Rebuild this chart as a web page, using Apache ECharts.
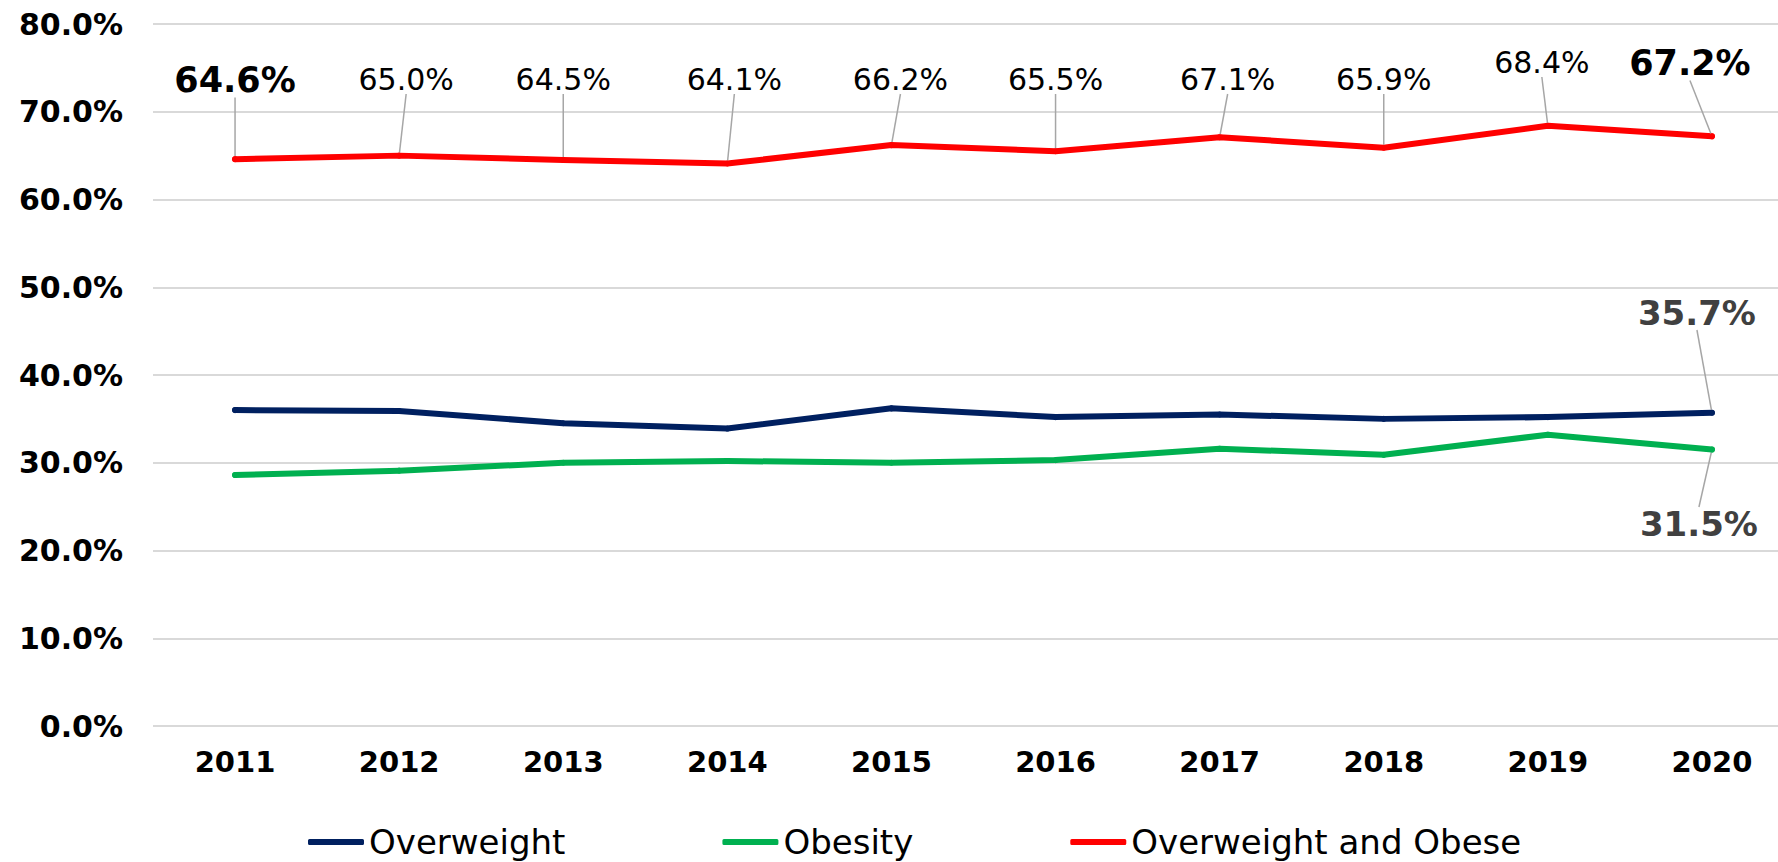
<!DOCTYPE html>
<html>
<head>
<meta charset="utf-8">
<script src="https://cdn.jsdelivr.net/npm/echarts@6/dist/echarts.min.js"></script>
<style>
  html, body { margin: 0; padding: 0; background: #fff; }
  #chart { width: 1778px; height: 862px; }
</style>
</head>
<body>
<div id="chart"></div>
<script>
const years = ['2011', '2012', '2013', '2014', '2015', '2016', '2017', '2018', '2019', '2020'];
const overweight = [36.0, 35.9, 34.5, 33.9, 36.2, 35.2, 35.5, 35.0, 35.2, 35.7];
const obesity = [28.6, 29.1, 30.0, 30.2, 30.0, 30.3, 31.6, 30.9, 33.2, 31.5];
const combined = [64.6, 65.0, 64.5, 64.1, 66.2, 65.5, 67.1, 65.9, 68.4, 67.2];
const yTicks = [0, 10, 20, 30, 40, 50, 60, 70, 80];

const FONT = '"DejaVu Sans", Verdana, sans-serif';
const pct = v => v.toFixed(1) + '%';

// label placement: horizontal shift and centre line for the callouts
const redDx = [0, 7, 0, 7, 9, 0, 8, 0, -6, -22];
const redRow = [80, 79, 79, 79, 79, 79, 79, 79, 62, 63];

const guide = { show: true, lineStyle: { color: '#a6a6a6', width: 1.5 } };

function moveLabel(dx, cy) {
  return p => ({
    dx: dx,
    dy: cy - (p.labelRect.y + p.labelRect.height / 2)
  });
}

const chart = echarts.init(document.getElementById('chart'), null, { renderer: 'svg' });

chart.setOption({
  animation: false,
  textStyle: { fontFamily: FONT },
  grid: { left: 153, top: 24, height: 702, width: 1641, containLabel: false, outerBoundsMode: 'none' },
  legend: {
    left: 303,
    top: 820,
    itemGap: 157,
    itemWidth: 56,
    itemHeight: 6,
    icon: 'roundRect',
    textStyle: { fontFamily: FONT, fontSize: 34, color: '#000' },
    data: ['Overweight', 'Obesity', 'Overweight and Obese']
  },
  xAxis: {
    type: 'category',
    data: years,
    boundaryGap: true,
    axisLine: { show: false },
    axisTick: { show: false },
    axisLabel: { fontFamily: FONT, fontSize: 29, fontWeight: 'bold', color: '#000', margin: 21 }
  },
  yAxis: {
    type: 'value',
    min: yTicks[0],
    max: yTicks[yTicks.length - 1],
    interval: 10,
    axisLine: { show: false },
    axisTick: { show: false },
    splitLine: { lineStyle: { color: '#d9d9d9', width: 2 } },
    axisLabel: { fontFamily: FONT, fontSize: 30, fontWeight: 'bold', color: '#000', margin: 30, formatter: pct }
  },
  series: [
    {
      name: 'Overweight',
      type: 'line',
      data: overweight.map((v, i) => i === overweight.length - 1
        ? { value: v, label: { show: true } } : v),
      color: '#002060',
      symbol: 'circle',
      symbolSize: 6,
      lineStyle: { width: 6, cap: 'round', join: 'round' },
      label: { show: false, position: 'top', fontFamily: FONT, fontSize: 34, fontWeight: 'bold', color: '#404040', formatter: p => pct(p.value) },
      labelLine: guide,
      labelLayout: moveLabel(-15, 313)
    },
    {
      name: 'Obesity',
      type: 'line',
      data: obesity.map((v, i) => i === obesity.length - 1
        ? { value: v, label: { show: true } } : v),
      color: '#00b050',
      symbol: 'circle',
      symbolSize: 6,
      lineStyle: { width: 6, cap: 'round', join: 'round' },
      label: { show: false, position: 'bottom', fontFamily: FONT, fontSize: 34, fontWeight: 'bold', color: '#404040', formatter: p => pct(p.value) },
      labelLine: guide,
      labelLayout: moveLabel(-13, 524)
    },
    {
      name: 'Overweight and Obese',
      type: 'line',
      data: combined.map((v, i) => (i === 0 || i === combined.length - 1)
        ? { value: v, label: { fontSize: 35, fontWeight: 'bold' } } : v),
      color: '#ff0000',
      symbol: 'circle',
      symbolSize: 6,
      lineStyle: { width: 6, cap: 'round', join: 'round' },
      label: { show: true, position: 'top', fontFamily: FONT, fontSize: 30, color: '#000', formatter: p => pct(p.value) },
      labelLine: guide,
      labelLayout: p => moveLabel(redDx[p.dataIndex], redRow[p.dataIndex])(p)
    }
  ]
});
window.addEventListener('resize', () => chart.resize());
</script>
</body>
</html>
